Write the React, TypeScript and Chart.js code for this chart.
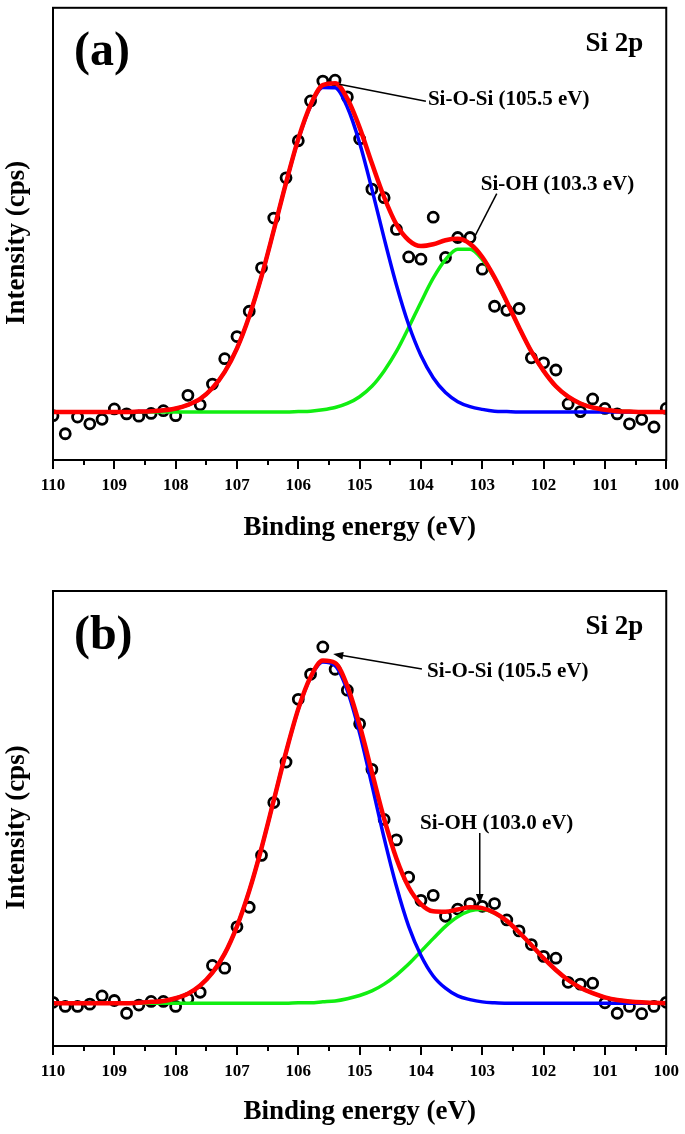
import React, { useEffect, useRef } from 'react';
import { Chart, registerables } from 'chart.js';

Chart.register(...registerables);

const FONT = '"Liberation Serif", "Times New Roman", serif';

// Binding energy grid (eV)
const energy = [
  110.0, 109.8, 109.6, 109.4, 109.2, 109.0, 108.8, 108.6, 108.4, 108.2,
  108.0, 107.8, 107.6, 107.4, 107.2, 107.0, 106.8, 106.6, 106.4, 106.2,
  106.0, 105.8, 105.6, 105.4, 105.2, 105.0, 104.8, 104.6, 104.4, 104.2,
  104.0, 103.8, 103.6, 103.4, 103.2, 103.0, 102.8, 102.6, 102.4, 102.2,
  102.0, 101.8, 101.6, 101.4, 101.2, 101.0, 100.8, 100.6, 100.4, 100.2, 100.0,
];

const majorTicks = [110, 109, 108, 107, 106, 105, 104, 103, 102, 101, 100];
const minorTicks = [109.5, 108.5, 107.5, 106.5, 105.5, 104.5, 103.5, 102.5, 101.5, 100.5];

// Panel (a)
const measuredA = [
  9.8, 5.8, 9.5, 8.0, 9.0, 11.3, 10.2, 9.7, 10.3, 10.9,
  9.8, 14.3, 12.2, 16.8, 22.4, 27.3, 32.9, 42.5, 53.5, 62.4,
  70.6, 79.4, 83.8, 84.0, 80.3, 71.0, 59.9, 58.0, 51.0, 44.9,
  44.4, 53.7, 44.8, 49.2, 49.2, 42.2, 34.0, 33.1, 33.5, 22.6,
  21.5, 19.9, 12.4, 10.7, 13.5, 11.4, 10.2, 8.0, 9.0, 7.3, 11.4,
];
const fitA = [
  10.6, 10.6, 10.6, 10.6, 10.6, 10.6, 10.6, 10.7, 10.8, 11.0,
  11.4, 12.2, 13.5, 15.9, 19.5, 24.7, 31.8, 40.6, 50.8, 61.3,
  71.0, 78.5, 82.9, 83.3, 79.9, 73.5, 65.6, 58.1, 52.1, 48.6,
  47.3, 47.7, 48.6, 48.9, 47.8, 44.9, 40.4, 35.0, 29.3, 24.0,
  19.7, 16.3, 14.0, 12.5, 11.6, 11.1, 10.8, 10.7, 10.6, 10.6, 10.6,
];
const siOSiA = [
  10.6, 10.6, 10.6, 10.6, 10.6, 10.6, 10.6, 10.7, 10.8, 11.0,
  11.4, 12.2, 13.5, 15.9, 19.5, 24.7, 31.8, 40.6, 50.8, 61.3,
  70.9, 78.3, 82.4, 82.3, 78.0, 70.1, 59.9, 49.0, 38.7, 29.9,
  23.1, 18.2, 14.9, 12.9, 11.8, 11.2, 10.8, 10.7, 10.6, 10.6,
  10.6, 10.6, 10.6, 10.6, 10.6, 10.6, 10.6, 10.6, 10.6, 10.6, 10.6,
];
const siOHA = [
  10.6, 10.6, 10.6, 10.6, 10.6, 10.6, 10.6, 10.6, 10.6, 10.6,
  10.6, 10.6, 10.6, 10.6, 10.6, 10.6, 10.6, 10.6, 10.6, 10.6,
  10.7, 10.8, 11.1, 11.6, 12.5, 14.0, 16.3, 19.7, 24.0, 29.3,
  34.9, 40.2, 44.3, 46.6, 46.6, 44.3, 40.2, 34.9, 29.3, 24.0,
  19.7, 16.3, 14.0, 12.5, 11.6, 11.1, 10.8, 10.7, 10.6, 10.6, 10.6,
];

// Panel (b)
const measuredB = [
  9.6, 8.7, 8.7, 9.2, 11.0, 10.0, 7.2, 9.0, 9.8, 9.8,
  8.7, 10.4, 11.8, 17.7, 17.1, 26.2, 30.5, 41.9, 53.5, 62.4,
  76.2, 81.7, 87.7, 82.8, 78.2, 70.8, 60.8, 49.8, 45.3, 37.1,
  32.0, 33.1, 28.5, 30.1, 31.3, 30.7, 31.3, 27.7, 25.3, 22.3,
  19.7, 19.3, 14.0, 13.6, 13.8, 9.5, 7.2, 8.7, 7.1, 8.7, 9.6,
];
const fitB = [
  9.4, 9.4, 9.4, 9.4, 9.4, 9.4, 9.4, 9.5, 9.7, 9.9,
  10.5, 11.5, 13.3, 16.1, 20.3, 26.3, 34.1, 43.5, 54.0, 64.6,
  74.1, 81.1, 84.7, 84.2, 79.1, 70.5, 60.2, 49.9, 41.2, 34.9,
  31.2, 29.6, 29.5, 30.0, 30.5, 30.3, 29.3, 27.5, 25.0, 22.2,
  19.3, 16.7, 14.5, 12.8, 11.6, 10.7, 10.1, 9.8, 9.6, 9.5, 9.4,
];
const siOSiB = [
  9.4, 9.4, 9.4, 9.4, 9.4, 9.4, 9.4, 9.5, 9.7, 9.9,
  10.5, 11.5, 13.3, 16.1, 20.3, 26.3, 34.1, 43.5, 54.0, 64.6,
  74.0, 81.0, 84.4, 83.6, 78.1, 68.8, 57.4, 45.7, 35.1, 26.3,
  19.9, 15.4, 12.7, 11.0, 10.2, 9.7, 9.5, 9.4, 9.4, 9.4,
  9.4, 9.4, 9.4, 9.4, 9.4, 9.4, 9.4, 9.4, 9.4, 9.4, 9.4,
];
const siOHB = [
  9.4, 9.4, 9.4, 9.4, 9.4, 9.4, 9.4, 9.4, 9.4, 9.4,
  9.4, 9.4, 9.4, 9.4, 9.4, 9.4, 9.4, 9.4, 9.4, 9.4,
  9.5, 9.5, 9.7, 9.9, 10.4, 11.1, 12.1, 13.6, 15.6, 18.0,
  20.8, 23.6, 26.3, 28.4, 29.7, 30.0, 29.2, 27.4, 25.0, 22.2,
  19.3, 16.7, 14.5, 12.8, 11.6, 10.7, 10.1, 9.8, 9.6, 9.5, 9.4,
];

type Note = { text: string; x: number; y: number; size: number; align: CanvasTextAlign };
type Pointer = { from: [number, number]; to: [number, number]; head: boolean };
type Panel = {
  measured: number[]; fit: number[]; siosi: number[]; sioh: number[];
  top: number; bottom: number; titlePad: number;
  notes: Note[]; pointers: Pointer[];
};

const H = 567;

const panelA: Panel = {
  measured: measuredA, fit: fitA, siosi: siOSiA, sioh: siOHA,
  top: 5, bottom: 460, titlePad: 23,
  notes: [
    { text: '(a)', x: 109.659, y: 87.25, size: 48, align: 'left' },
    { text: 'Si 2p', x: 100.374, y: 90.5, size: 27, align: 'right' },
    { text: 'Si-O-Si (105.5 eV)', x: 103.886, y: 78.46, size: 21, align: 'left' },
    { text: 'Si-OH (103.3 eV)', x: 103.024, y: 59.78, size: 21, align: 'left' },
  ],
  pointers: [
    { from: [103.919, 79.34], to: [105.333, 83.08], head: false },
    { from: [102.764, 58.9], to: [103.122, 49.45], head: false },
  ],
};

const panelB: Panel = {
  measured: measuredB, fit: fitB, siosi: siOSiB, sioh: siOHB,
  top: 24, bottom: 479, titlePad: 6,
  notes: [
    { text: '(b)', x: 109.659, y: 87.25, size: 48, align: 'left' },
    { text: 'Si 2p', x: 100.374, y: 90.55, size: 27, align: 'right' },
    { text: 'Si-O-Si (105.5 eV)', x: 103.902, y: 81.1, size: 21, align: 'left' },
    { text: 'Si-OH (103.0 eV)', x: 104.016, y: 47.69, size: 21, align: 'left' },
  ],
  pointers: [
    { from: [103.984, 82.86], to: [105.431, 86.15], head: true },
    { from: [103.041, 46.81], to: [103.041, 31.21], head: true },
  ],
};

const pts = (xs: number[], ys: number[]) => xs.map((x, i) => ({ x, y: ys[i] }));

function makeDecor(panel: Panel) {
  return {
    id: 'decor',
    afterDraw(chart: any) {
      const { ctx, chartArea: a, scales } = chart;
      const xs = scales.x;
      const ys = scales.y;
      ctx.save();
      ctx.strokeStyle = '#000';
      ctx.fillStyle = '#000';
      ctx.lineWidth = 2;
      for (const v of minorTicks) {
        const px = Math.round(xs.getPixelForValue(v));
        ctx.beginPath();
        ctx.moveTo(px, a.bottom);
        ctx.lineTo(px, a.bottom + 5);
        ctx.stroke();
      }
      ctx.strokeRect(a.left, a.top, a.right - a.left, a.bottom - a.top);

      ctx.save();
      ctx.translate(a.left - 35.5, (a.top + a.bottom) / 2 + 9);
      ctx.rotate(-Math.PI / 2);
      ctx.font = `bold 27px ${FONT}`;
      ctx.textAlign = 'center';
      ctx.textBaseline = 'middle';
      ctx.fillText('Intensity (cps)', 0, 0);
      ctx.restore();

      ctx.lineWidth = 1.5;
      for (const p of panel.pointers) {
        const x0 = xs.getPixelForValue(p.from[0]);
        const y0 = ys.getPixelForValue(p.from[1]);
        const x1 = xs.getPixelForValue(p.to[0]);
        const y1 = ys.getPixelForValue(p.to[1]);
        const dx = x1 - x0;
        const dy = y1 - y0;
        const len = Math.hypot(dx, dy);
        const ux = dx / len;
        const uy = dy / len;
        const hl = p.head ? 10 : 0;
        ctx.beginPath();
        ctx.moveTo(x0, y0);
        ctx.lineTo(x1 - ux * hl * 0.8, y1 - uy * hl * 0.8);
        ctx.stroke();
        if (p.head) {
          const hw = 3.8;
          ctx.beginPath();
          ctx.moveTo(x1, y1);
          ctx.lineTo(x1 - ux * hl - uy * hw, y1 - uy * hl + ux * hw);
          ctx.lineTo(x1 - ux * hl + uy * hw, y1 - uy * hl - ux * hw);
          ctx.closePath();
          ctx.fill();
        }
      }

      for (const n of panel.notes) {
        ctx.font = `bold ${n.size}px ${FONT}`;
        ctx.textAlign = n.align;
        ctx.textBaseline = 'alphabetic';
        ctx.fillText(n.text, xs.getPixelForValue(n.x), ys.getPixelForValue(n.y));
      }
      ctx.restore();
    },
  };
}

function PanelChart({ panel }: { panel: Panel }) {
  const ref = useRef<HTMLCanvasElement | null>(null);
  useEffect(() => {
    if (!ref.current) return;
    const lineBase = {
      showLine: true,
      pointRadius: 0,
      cubicInterpolationMode: 'monotone' as const,
      fill: false,
    };
    const chart = new Chart(ref.current, {
      type: 'scatter',
      data: {
        datasets: [
          { ...lineBase, label: 'Fit', data: pts(energy, panel.fit), borderColor: '#ff0000', borderWidth: 4.5, order: 0 },
          { ...lineBase, label: 'Si-O-Si', data: pts(energy, panel.siosi), borderColor: '#0000ff', borderWidth: 3.5, order: 1 },
          { ...lineBase, label: 'Si-OH', data: pts(energy, panel.sioh), borderColor: '#11ee11', borderWidth: 3.5, order: 2 },
          {
            label: 'Measured', data: pts(energy, panel.measured), showLine: false,
            pointRadius: 5, pointBorderWidth: 2.8, borderColor: '#000', pointBorderColor: '#000',
            backgroundColor: 'rgba(0,0,0,0)', pointBackgroundColor: 'rgba(0,0,0,0)', order: 3, clip: 0,
          } as any,
        ],
      },
      options: {
        responsive: false,
        animation: false,
        devicePixelRatio: 1,
        events: [],
        layout: { padding: { left: 53, right: 17, top: panel.top, bottom: 0 } },
        plugins: { legend: { display: false }, tooltip: { enabled: false } },
        scales: {
          x: {
            type: 'linear', min: 100, max: 110, reverse: true,
            afterFit: (s: any) => { s.height = H - panel.bottom; },
            afterBuildTicks: (s: any) => { s.ticks = majorTicks.map((v) => ({ value: v })); },
            ticks: {
              autoSkip: false, maxRotation: 0, padding: 6, color: '#000',
              font: { family: FONT, size: 17, weight: 'bold' },
              callback: (v: any) => String(v),
            },
            grid: { drawOnChartArea: false, drawTicks: true, tickLength: 9, color: '#000', lineWidth: 2 },
            border: { display: false },
            title: {
              display: true, text: 'Binding energy (eV)', color: '#000',
              font: { family: FONT, size: 27, weight: 'bold' },
              padding: { top: 0, bottom: panel.titlePad },
            },
          },
          y: { display: false, min: 0, max: 100 },
        },
      },
      plugins: [makeDecor(panel)],
    } as any);
    return () => chart.destroy();
  }, [panel]);
  return <canvas ref={ref} width={685} height={H} style={{ display: 'block', width: 685, height: H }} />;
}

export default function App() {
  return (
    <div style={{ position: 'absolute', left: 0, top: 0, width: 685, height: 1134, background: '#fff' }}>
      <PanelChart panel={panelA} />
      <PanelChart panel={panelB} />
    </div>
  );
}
